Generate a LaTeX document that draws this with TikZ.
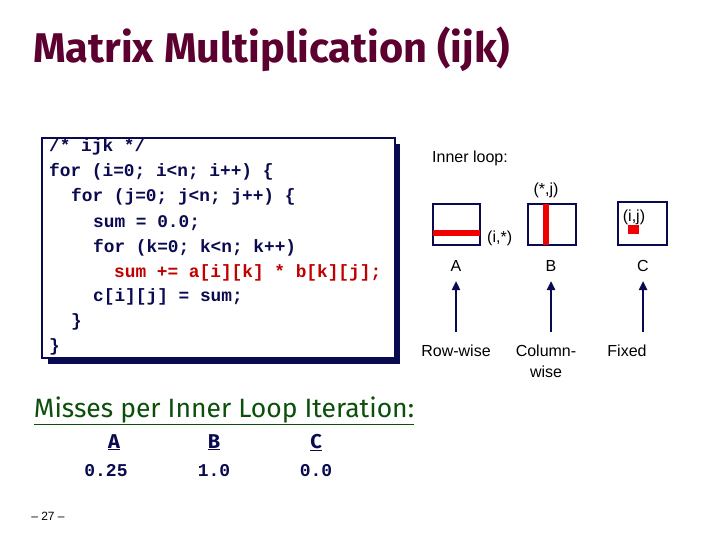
\documentclass[tikz,border=0pt]{standalone}
\usepackage{fontspec}
\setmainfont{Liberation Sans}
\newfontfamily\comicf{Fira Sans}
\newfontfamily\codef{Liberation Mono}
\usetikzlibrary{arrows.meta}
\definecolor{titlec}{HTML}{5C0030}
\definecolor{navy}{HTML}{0A0A50}
\definecolor{codered}{HTML}{C00000}
\definecolor{greenc}{HTML}{0B4F0B}
\definecolor{redbar}{HTML}{F00000}
\tikzset{
  codeline/.style={anchor=base west,inner sep=0pt,font=\codef\bfseries\fontsize{17.8}{20}\selectfont,text=navy},
  lbl/.style={inner sep=0pt,font=\fontsize{16}{19}\selectfont,text=black},
  mat/.style={draw=navy,line width=1.6pt},
  uparrow/.style={draw=navy,line width=2.5pt,-{Triangle[length=9pt,width=8pt]}},
  miss/.style={inner sep=0pt,anchor=base,font=\comicf\bfseries\fontsize{20}{24}\selectfont,text=navy},
  val/.style={inner sep=0pt,anchor=base,font=\codef\bfseries\fontsize{18}{22}\selectfont,text=navy}
}
\begin{document}
\begin{tikzpicture}[x=1pt,y=-1pt]
\useasboundingbox[fill=white] (0,0) rectangle (720,540);
% title
\node[anchor=base west,inner sep=0pt,text=titlec,font=\comicf\bfseries\fontsize{41.5}{46}\selectfont] (title) at (33,63) {Matrix Multiplication (ijk)};
% code box
\fill[navy] (48,144) rectangle (400,364);
\draw[navy,line width=1.2pt,fill=white] (42,138) rectangle (395,358);
\node[codeline] (l1) at (49,152) {/* ijk */};
\node[codeline] (l2) at (49,177) {for (i=0; i<n; i++)  \{};
\node[codeline] (l3) at (71,202) {for (j=0; j<n; j++) \{};
\node[codeline] (l4) at (93,227) {sum = 0.0;};
\node[codeline] (l5) at (93,252) {for (k=0; k<n; k++)};
\node[codeline,text=codered] (l6) at (114,277) {sum += a[i][k] * b[k][j];};
\node[codeline] (l7) at (93,301) {c[i][j] = sum;};
\node[codeline] (l8) at (71,326) {\}};
\node[codeline] (l9) at (49,351) {\}};
% inner loop
\node[lbl,anchor=base west] (inner) at (432,163) {Inner loop:};
% matrix A
\draw[mat] (433,204) rectangle (480,245);
\fill[redbar] (433,230) rectangle (480,236);
\node[lbl,anchor=base west] (ia) at (487,242) {(i,*)};
% matrix B
\draw[mat] (528,204) rectangle (576,245);
\fill[redbar] (543,204) rectangle (549,245);
\node[lbl,anchor=base] (ib) at (546,195) {(*,j)};
% matrix C
\draw[mat] (618,202) rectangle (667,245);
\fill[redbar] (628,225) rectangle (639,234);
\node[lbl,anchor=base] (ic) at (634,222) {(i,j)};
% labels
\node[lbl,anchor=base] (A) at (456,271) {A};
\node[lbl,anchor=base] (B) at (551,271) {B};
\node[lbl,anchor=base] (C) at (643,271) {C};
\node[lbl,anchor=base] (rw) at (456,356) {Row-wise};
\node[lbl,anchor=base] (cw) at (546,356) {Column-};
\node[lbl,anchor=base] (cw2) at (546,377) {wise};
\node[lbl,anchor=base] (fx) at (627,356) {Fixed};
\coordinate (aA) at (456,332);
\coordinate (aB) at (551,332);
\coordinate (aC) at (643,332);
\draw[uparrow] (aA) -- (A.north |- 0,281);
\draw[uparrow] (aB) -- (B.north |- 0,281);
\draw[uparrow] (aC) -- (C.north |- 0,281);
% misses
\node[anchor=base,inner sep=0pt,text=greenc,font=\comicf\fontsize{26.5}{30}\selectfont] (misses) at (224,417) {\underline{Misses per Inner Loop Iteration:}};
\node[miss] (mA) at (114,448) {\underline{A}};
\node[miss] (mB) at (214,448) {\underline{B}};
\node[miss] (mC) at (316,448) {\underline{C}};
\node[val] (vA) at (106,476) {0.25};
\node[val] (vB) at (214,476) {1.0};
\node[val] (vC) at (316,476) {0.0};
\node[anchor=base,inner sep=0pt,font=\fontsize{12}{14}\selectfont] (pg) at (48,520) {-- 27 --};
\end{tikzpicture}
\end{document}
